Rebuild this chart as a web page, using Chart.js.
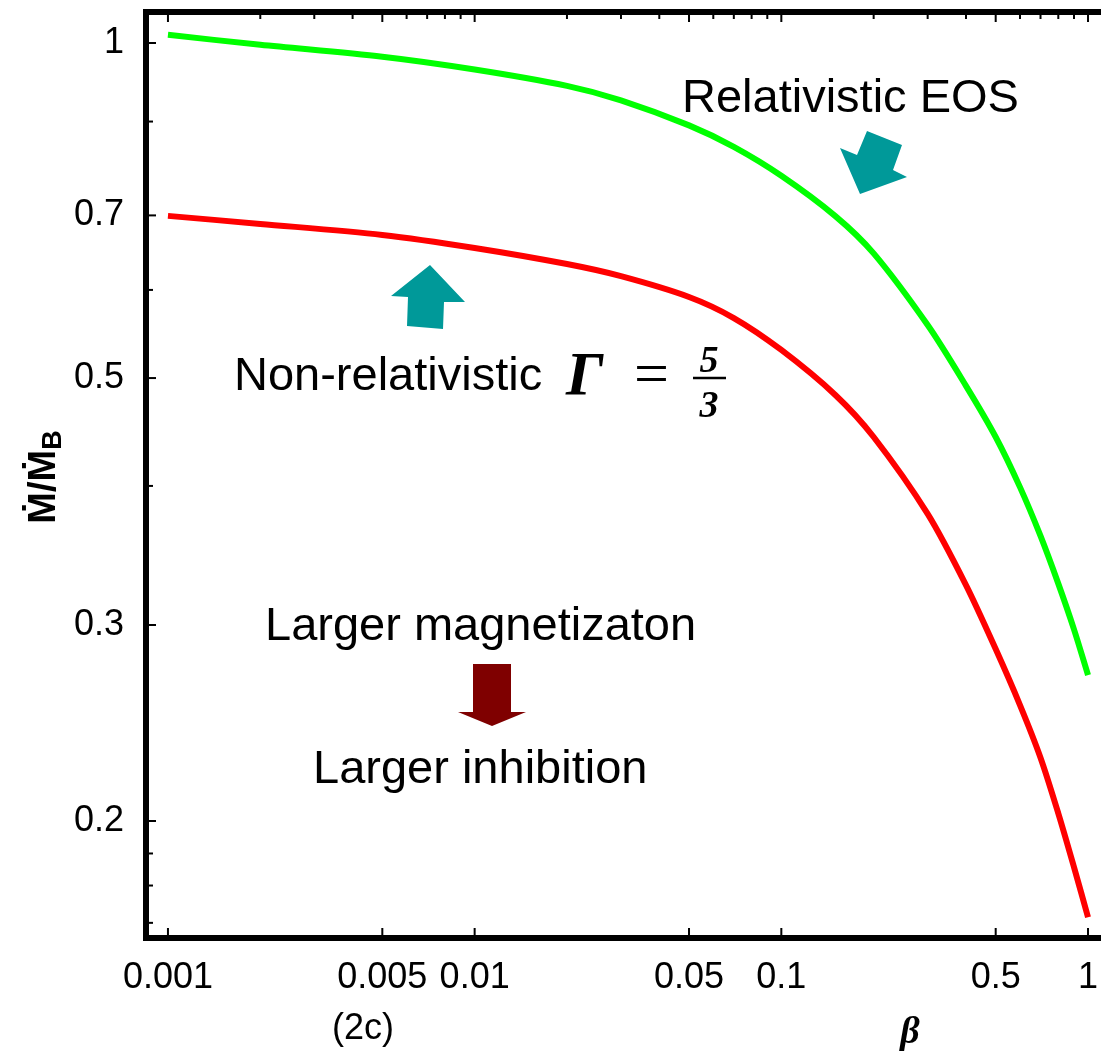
<!DOCTYPE html>
<html lang="en">

<head>
    <meta charset="UTF-8">
    <title>Accretion rate vs beta</title>
    <script src="https://cdn.jsdelivr.net/npm/chart.js@4.4.0/dist/chart.umd.min.js"></script>
    <style>
        body { margin: 0; background: #fff; }
    </style>
</head>

<body>
    <canvas id="grafico" width="1101" height="1051"></canvas>

<script>
    // beta values where the curves were sampled
    const beta = [0.001, 0.002, 0.005, 0.01, 0.02, 0.03, 0.05, 0.07, 0.1, 0.15, 0.2, 0.3, 0.4, 0.5, 0.6, 0.7, 0.8, 0.9, 1];

    // Mdot / Mdot_B, relativistic EOS (green)
    const relativistic = [1.017, 0.9963, 0.9721, 0.9467, 0.9152, 0.8882, 0.8433, 0.8066, 0.7598, 0.6990, 0.6471, 0.5579, 0.4920, 0.4426, 0.3990, 0.3607, 0.3268, 0.2973, 0.2705];

    // Mdot / Mdot_B, non-relativistic Gamma = 5/3 (red)
    const nonRelativistic = [0.6993, 0.6878, 0.6723, 0.6544, 0.6330, 0.6173, 0.5913, 0.5661, 0.5299, 0.4828, 0.4426, 0.3775, 0.3258, 0.2854, 0.2542, 0.2280, 0.2032, 0.1818, 0.1639];

    // axis ticks
    const xTicks = [0.001, 0.005, 0.01, 0.05, 0.1, 0.5, 1];
    const xMinorTop = [0.002, 0.003, 0.004, 0.006, 0.007, 0.008, 0.009, 0.02, 0.03, 0.04, 0.06, 0.07, 0.08, 0.09, 0.2, 0.3, 0.4, 0.6, 0.7, 0.8, 0.9];
    const yTicks = [0.2, 0.3, 0.5, 0.7, 1];
    const yMinor = [0.85, 0.6, 0.4, 0.187, 0.175, 0.162];

    function pontos(ys) {
        return beta.map(function (b, i) { return { x: b, y: ys[i] }; });
    }

    const FONTE = '"Liberation Sans", Arial, sans-serif';
    const SERIF = '"Liberation Serif", "Times New Roman", serif';

    // no extra room for the outer tick labels, the frame fills the canvas
    function semPadding(s) {
        s.paddingLeft = 0;
        s.paddingRight = 0;
        s.paddingTop = 0;
        s.paddingBottom = 0;
    }

    // frame, inward ticks, axis titles and the annotations
    const moldura = {
        id: 'moldura',
        afterDraw(chart) {
            const ctx = chart.ctx;
            const a = chart.chartArea;
            const sx = chart.scales.x;
            const sy = chart.scales.y;

            ctx.save();
            ctx.strokeStyle = '#000';
            ctx.lineCap = 'butt';

            // ticks
            ctx.lineWidth = 2;
            xTicks.forEach(function (v) {
                const px = sx.getPixelForValue(v);
                ctx.beginPath();
                ctx.moveTo(px, a.bottom); ctx.lineTo(px, a.bottom - 10);
                ctx.moveTo(px, a.top); ctx.lineTo(px, a.top + 10);
                ctx.stroke();
            });
            xMinorTop.forEach(function (v) {
                const px = sx.getPixelForValue(v);
                ctx.beginPath();
                ctx.moveTo(px, a.top); ctx.lineTo(px, a.top + 7);
                ctx.stroke();
            });
            yTicks.forEach(function (v) {
                const py = sy.getPixelForValue(v);
                ctx.beginPath();
                ctx.moveTo(a.left, py); ctx.lineTo(a.left + 10, py);
                ctx.stroke();
            });
            yMinor.forEach(function (v) {
                const py = sy.getPixelForValue(v);
                ctx.beginPath();
                ctx.moveTo(a.left, py); ctx.lineTo(a.left + 7, py);
                ctx.stroke();
            });

            // frame
            ctx.lineWidth = 6;
            ctx.beginPath();
            ctx.moveTo(a.right, a.top);
            ctx.lineTo(a.left, a.top);
            ctx.lineTo(a.left, a.bottom);
            ctx.lineTo(a.right, a.bottom);
            ctx.stroke();

            ctx.fillStyle = '#000';

            // y axis title: Mdot / Mdot_B
            ctx.save();
            ctx.translate(55, 477);
            ctx.rotate(-Math.PI / 2);
            ctx.font = 'bold 38px ' + FONTE;
            ctx.textBaseline = 'alphabetic';
            const t1 = 'Ṁ/Ṁ';
            const w1 = ctx.measureText(t1).width;
            ctx.font = 'bold 27px ' + FONTE;
            const w2 = ctx.measureText('B').width;
            const x0 = -(w1 + w2) / 2;
            ctx.font = 'bold 38px ' + FONTE;
            ctx.fillText(t1, x0, 0);
            ctx.font = 'bold 27px ' + FONTE;
            ctx.fillText('B', x0 + w1, 6);
            ctx.restore();

            // x axis title and panel tag
            ctx.textAlign = 'center';
            ctx.textBaseline = 'middle';
            ctx.font = '36px ' + FONTE;
            ctx.fillText('(2c)', 363, 1029);
            ctx.font = 'bold italic 38px ' + SERIF;
            ctx.fillText('β', 910, 1033);

            // annotations
            ctx.textAlign = 'left';
            ctx.textBaseline = 'alphabetic';
            ctx.font = '47px ' + FONTE;
            ctx.fillText('Relativistic EOS', 682, 112);
            ctx.fillText('Non-relativistic', 234, 390);
            ctx.fillText('Larger magnetizaton', 265, 640);
            ctx.fillText('Larger inhibition', 313, 783);

            ctx.font = 'bold italic 62px ' + SERIF;
            ctx.fillText('Γ', 566, 394);
            ctx.font = '62px ' + SERIF;
            ctx.fillText('=', 634, 394);
            ctx.textAlign = 'center';
            ctx.font = 'bold italic 38px ' + SERIF;
            ctx.fillText('5', 709, 372);
            ctx.fillText('3', 709, 417);
            ctx.lineWidth = 2.5;
            ctx.beginPath();
            ctx.moveTo(693, 378); ctx.lineTo(726, 378);
            ctx.stroke();

            // arrows
            function seta(cor, pts) {
                ctx.fillStyle = cor;
                ctx.beginPath();
                ctx.moveTo(pts[0][0], pts[0][1]);
                for (let i = 1; i < pts.length; i++) ctx.lineTo(pts[i][0], pts[i][1]);
                ctx.closePath();
                ctx.fill();
            }
            seta('#009999', [[860, 194], [840, 148], [857, 155], [867, 131], [902, 145], [893, 170], [907, 177]]);
            seta('#009999', [[430, 265], [391, 296], [408, 297], [407, 326], [443, 329], [444, 302], [465, 302]]);
            seta('#7f0000', [[492, 726], [458, 712], [473, 712], [473, 664], [511, 664], [511, 712], [526, 712]]);

            ctx.restore();
        }
    };

    const ctx = document.getElementById('grafico');

    new Chart(ctx, {
        type: 'line',
        data: {
            datasets: [{
                label: 'Relativistic EOS',
                data: pontos(relativistic),
                borderColor: '#00ff00',
                borderWidth: 6,
                pointRadius: 0,
                tension: 0.3
            }, {
                label: 'Non-relativistic',
                data: pontos(nonRelativistic),
                borderColor: '#ff0000',
                borderWidth: 6,
                pointRadius: 0,
                tension: 0.3
            }]
        },
        options: {
            responsive: false,
            animation: false,
            devicePixelRatio: 1,
            layout: { padding: { top: 12, right: 0, left: 0, bottom: 0 } },
            plugins: {
                legend: { display: false },
                tooltip: { enabled: false }
            },
            scales: {
                x: {
                    type: 'logarithmic',
                    min: 0.000848,
                    max: 1.1024,
                    afterFit: function (s) { s.height = 113; semPadding(s); },
                    afterBuildTicks: function (s) { s.ticks = xTicks.map(function (v) { return { value: v }; }); },
                    grid: { display: false, drawTicks: false },
                    border: { display: false },
                    ticks: {
                        color: '#000',
                        font: { family: FONTE, size: 36 },
                        padding: 18,
                        autoSkip: false,
                        maxRotation: 0,
                        callback: function (v) { return String(v); }
                    }
                },
                y: {
                    type: 'logarithmic',
                    min: 0.157,
                    max: 1.0662,
                    afterFit: function (s) { s.width = 146; semPadding(s); },
                    afterBuildTicks: function (s) { s.ticks = yTicks.map(function (v) { return { value: v }; }); },
                    grid: { display: false, drawTicks: false },
                    border: { display: false },
                    ticks: {
                        color: '#000',
                        font: { family: FONTE, size: 36 },
                        padding: 22,
                        autoSkip: false,
                        callback: function (v) { return String(v); }
                    }
                }
            }
        },
        plugins: [moldura]
    });
</script>
</body>

</html>
